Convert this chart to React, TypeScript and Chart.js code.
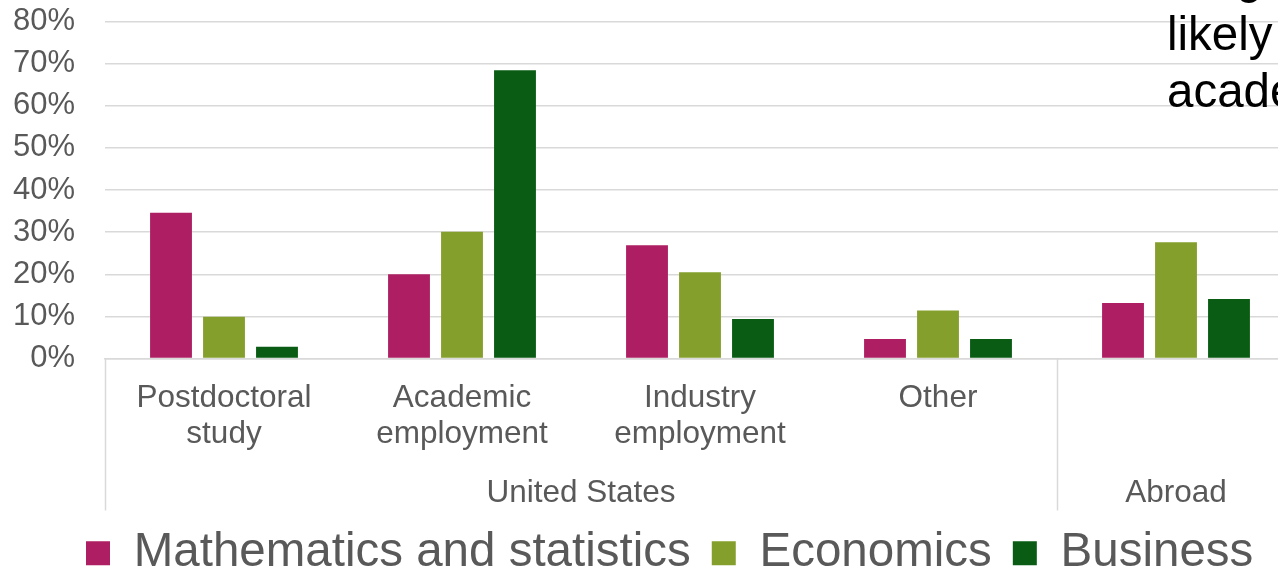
import React, { useEffect, useRef } from "react";
import { Chart, registerables } from "chart.js";

Chart.register(...registerables);

// ---- Data ----
const categoryLabels: (string | string[])[] = [
  ["Postdoctoral", "study"],
  ["Academic", "employment"],
  ["Industry", "employment"],
  "Other",
  "",
];
const groupLabels = ["United States", "Abroad"];
const groupFirst = [0, 4];
const groupLast = [3, 4];
const seriesNames = ["Mathematics and statistics", "Economics", "Business"];
const mathValues = [34.6, 20.0, 26.9, 4.6, 13.2];
const econValues = [9.9, 30.1, 20.5, 11.4, 27.6];
const businessValues = [2.8, 68.4, 9.4, 4.6, 14.1];
const seriesColors = ["#AD1F62", "#859F2D", "#0A5C14"];
const yMin = 0;
const yMax = 80;
const yStep = 10;
const noteLines = ["g", "likely", "academia"];

const FONT = "'Liberation Sans', Arial, sans-serif";
const GREY = "#595959";
const LINE = "#d9d9d9";

const groupAxisPlugin = {
  id: "groupAxis",
  afterLayout(chart: any) {
    const lg = chart.legend;
    if (lg) lg.left = 65;
  },
  afterDraw(chart: any) {
    const x = chart.scales.x;
    const ctx = chart.ctx;
    const step = x.getPixelForValue(1) - x.getPixelForValue(0);
    const top = x.top;
    ctx.save();
    ctx.strokeStyle = LINE;
    ctx.lineWidth = 1.5;
    ctx.fillStyle = GREY;
    ctx.font = `31.5px ${FONT}`;
    ctx.textAlign = "center";
    ctx.textBaseline = "alphabetic";
    const edges: number[] = [];
    groupLabels.forEach((label, i) => {
      const left = x.getPixelForValue(groupFirst[i]) - step / 2;
      const right = x.getPixelForValue(groupLast[i]) + step / 2;
      if (!edges.includes(left)) edges.push(left);
      if (!edges.includes(right)) edges.push(right);
      ctx.fillText(label, (left + right) / 2, top + 143);
    });
    edges.forEach((e) => {
      ctx.beginPath();
      ctx.moveTo(Math.round(e) + 0.5, top);
      ctx.lineTo(Math.round(e) + 0.5, top + 152);
      ctx.stroke();
    });
    ctx.restore();
  },
};

export default function App() {
  const canvasRef = useRef<HTMLCanvasElement | null>(null);

  useEffect(() => {
    if (!canvasRef.current) return;
    const chart = new Chart(canvasRef.current, {
      type: "bar",
      data: {
        labels: categoryLabels,
        datasets: [
          { label: seriesNames[0], data: mathValues, backgroundColor: seriesColors[0], borderWidth: 0 },
          { label: seriesNames[1], data: econValues, backgroundColor: seriesColors[1], borderWidth: 0 },
          { label: seriesNames[2], data: businessValues, backgroundColor: seriesColors[2], borderWidth: 0 },
        ],
      },
      options: {
        animation: false,
        responsive: true,
        maintainAspectRatio: false,
        devicePixelRatio: 1,
        datasets: {
          bar: { categoryPercentage: 0.668, barPercentage: 0.79 },
        },
        layout: { padding: { left: 10, right: 40, top: 21.5, bottom: 0 } },
        scales: {
          x: {
            grid: { display: false, drawTicks: false },
            border: { display: true, color: LINE, width: 1.5 },
            ticks: {
              autoSkip: false,
              maxRotation: 0,
              minRotation: 0,
              padding: 22,
              color: GREY,
              font: { family: FONT, size: 31.5, lineHeight: 1.13 },
            },
            afterFit: (s: any) => {
              s.height = 150;
            },
          },
          y: {
            min: yMin,
            max: yMax,
            grid: { color: LINE, lineWidth: 1.5, drawTicks: false },
            border: { display: false },
            ticks: {
              stepSize: yStep,
              autoSkip: false,
              padding: 30,
              color: GREY,
              font: { family: FONT, size: 31 },
              callback: (v: any) => `${v}%`,
            },
            afterFit: (s: any) => {
              s.width = 95;
              s.paddingTop = 0;
              s.paddingBottom = 0;
            },
          },
        },
        plugins: {
          legend: {
            position: "bottom",
            align: "start",
            labels: {
              boxWidth: 24,
              boxHeight: 24,
              padding: 21,
              color: GREY,
              font: { family: FONT, size: 47.5 },
            },
          },
          tooltip: { enabled: false },
        },
      },
      plugins: [groupAxisPlugin],
    });
    return () => chart.destroy();
  }, []);

  return (
    <div style={{ position: "fixed", left: 0, top: 0, width: "100vw", height: "100vh", overflow: "hidden", background: "#fff" }}>
      <div style={{ position: "absolute", left: 0, top: 0, width: 1335, height: 587 }}>
        <canvas ref={canvasRef} />
      </div>
      <div
        style={{
          position: "absolute",
          left: 1167,
          top: -52,
          fontFamily: FONT,
          fontSize: 47.5,
          lineHeight: "57px",
          color: "#000",
          whiteSpace: "nowrap",
        }}
      >
        {noteLines.map((t, i) => (
          <div key={i} style={{ paddingLeft: i === 0 ? 69 : 0 }}>
            {t}
          </div>
        ))}
      </div>
    </div>
  );
}
